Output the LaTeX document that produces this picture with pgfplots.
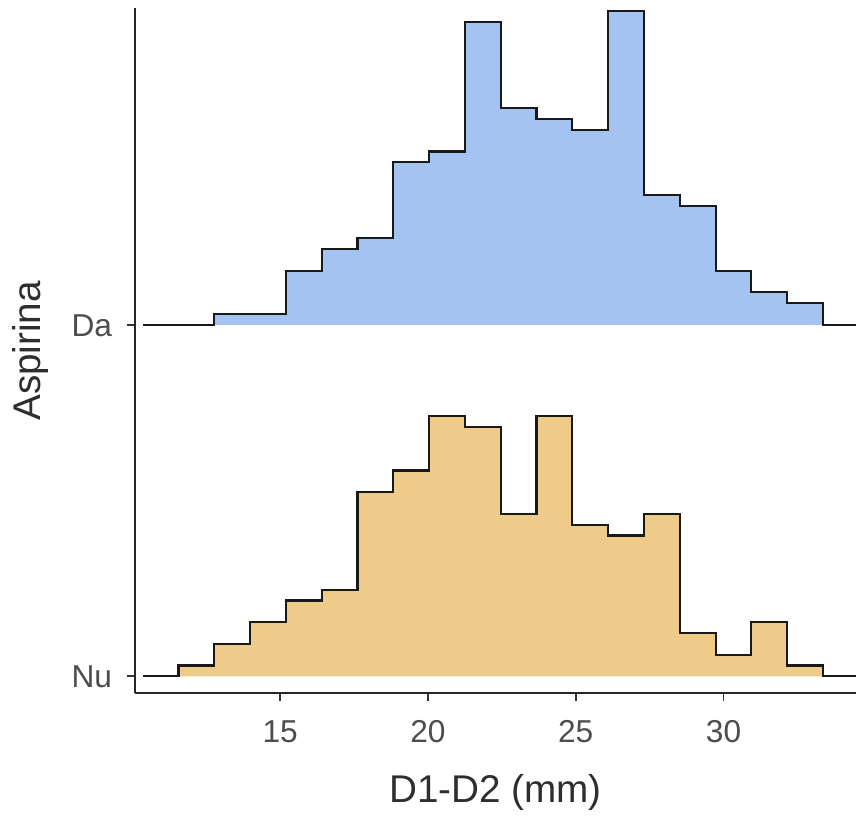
\documentclass[border=0pt]{standalone}
\usepackage{fontspec}
\setmainfont{Liberation Sans}
\usepackage{pgfplots}
\pgfplotsset{compat=1.18}
\usepackage{pgfplotstable}
\definecolor{dafill}{HTML}{A4C3F0}
\definecolor{nufill}{HTML}{EFCB8A}
\definecolor{ticktext}{HTML}{4D4D4D}
\definecolor{titletext}{HTML}{2E2E2E}

% bin left edges and counts (Da)
\pgfplotstableread{
x c
10.366 0
11.557 0
12.769 1
13.980 1
15.192 5
16.404 7
17.616 8
18.827 15
20.039 16
21.251 28
22.462 20
23.674 19
24.886 18
26.097 29
27.309 12
28.521 11
29.733 5
30.944 3
32.156 2
33.368 0
35.500 0
}\dadata

% bin left edges and counts (Nu)
\pgfplotstableread{
x c
10.366 0
11.557 1
12.769 3
13.980 5
15.192 7
16.404 8
17.616 17
18.827 19
20.039 24
21.251 23
22.462 15
23.674 24
24.886 14
26.097 13
27.309 15
28.521 4
29.733 2
30.944 5
32.156 1
33.368 0
35.500 0
}\nudata

\begin{document}
\begin{tikzpicture}
\useasboundingbox (-40.5pt,-37.11pt) rectangle (216.3pt,207.99pt);
\begin{axis}[
  width=216.3pt, height=205.44pt, scale only axis,
  xmin=10.085, xmax=34.484, ymin=0.9516, ymax=2.90,
  axis x line=bottom, axis y line=left,
  axis line style={-, black!85, line width=0.5pt},
  xtick={15,20,25,30}, ytick={1,2}, yticklabels={Nu,Da},
  tick align=outside, major tick length=2.4pt,
  tick style={color=black!80, line width=0.5pt},
  /pgf/number format/assume math mode=true,
  ticklabel style={font=\fontsize{9.5}{11}\selectfont, text=ticktext},
  xticklabel style={anchor=base, yshift=-12.5pt},
  yticklabel style={anchor=base east, inner sep=0pt, xshift=-4.3pt, yshift=-3.5pt},
  xlabel={D1-D2 (mm)}, ylabel={Aspirina},
  label style={font=\fontsize{11.6}{14}\selectfont, text=titletext},
  xlabel style={at={(axis description cs:0.5,-0.1602)}, anchor=base, inner sep=0pt},
  ylabel style={at={(axis description cs:-0.1304,0.5)}, anchor=base, inner sep=0pt},
  no markers,
]
\addplot[const plot, draw=none, fill=dafill] table[x=x, y expr=2+0.03081*\thisrow{c}] {\dadata};
\addplot[const plot, color=black!90, line width=0.65pt] table[x=x, y expr=2+0.03081*\thisrow{c}] {\dadata};
\addplot[const plot, draw=none, fill=nufill] table[x=x, y expr=1+0.03081*\thisrow{c}] {\nudata};
\addplot[const plot, color=black!90, line width=0.65pt] table[x=x, y expr=1+0.03081*\thisrow{c}] {\nudata};
\end{axis}
\end{tikzpicture}
\end{document}
